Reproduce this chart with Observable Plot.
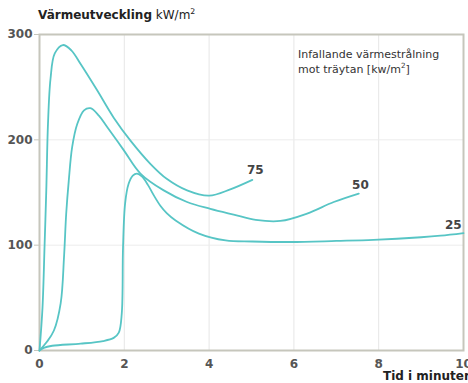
<!DOCTYPE html>
<html>
<head>
<meta charset="utf-8">
<script src="https://cdn.jsdelivr.net/npm/d3@7"></script>
<script src="https://cdn.jsdelivr.net/npm/@observablehq/plot@0.6"></script>
<style>
  html, body { margin: 0; padding: 0; background: #fff; }
  #wrap { position: relative; width: 468px; height: 383px; overflow: hidden; font-family: "DejaVu Sans", sans-serif; }
  #title { position: absolute; left: 38px; top: 8px; font-size: 12px; color: #222; white-space: nowrap; }
  #title b { font-weight: bold; }
  #legend { position: absolute; left: 298px; top: 47px; font-size: 11px; line-height: 15px; color: #333; white-space: nowrap; }
  #xlabel { position: absolute; left: 383px; top: 369px; font-size: 12px; font-weight: bold; color: #222; white-space: nowrap; }
  sup { font-size: 0.65em; line-height: 0; }
</style>
</head>
<body>
<div id="wrap">
  <div id="chart"></div>
  <div id="title"><b>Värmeutveckling</b> kW/m<sup>2</sup></div>
  <div id="legend">Infallande värmestrålning<br>mot träytan [kw/m<sup>2</sup>]</div>
  <div id="xlabel">Tid i minuter</div>
</div>
<script>
// Series: [minutes, kW/m2]
const curve75 = [[0,0],[0.07,40],[0.12,100],[0.16,152],[0.2,215],[0.26,258],[0.36,282],[0.55,290],[0.75,285],[0.97,272],[1.36,247],[1.75,221],[2.15,199],[2.62,177],[3.0,163],[3.48,152],[4.0,147],[4.5,153],[5.02,162]];
const curve50 = [[0,0],[0.17,8],[0.34,19],[0.5,45],[0.58,90],[0.63,130],[0.69,161],[0.77,193],[0.89,215],[1.05,228],[1.2,230],[1.4,223],[1.6,212],[1.99,190],[2.38,168],[2.93,152],[3.48,141],[4.03,134.5],[4.58,129],[5.1,124],[5.68,123],[6.31,130],[6.94,141],[7.53,149]];
const curve25 = [[0,0],[0.1,2.5],[0.3,4.5],[0.97,6.5],[1.5,9],[1.75,12],[1.87,17],[1.94,35],[1.97,98],[2.02,140],[2.1,158],[2.2,166],[2.3,168],[2.42,165],[2.56,157],[2.7,147],[2.85,137.5],[3.0,130.5],[3.21,123.5],[3.76,111],[4.39,104.5],[5.02,103.5],[5.92,103],[7.0,104],[7.88,105],[9.0,107.5],[9.46,109],[10,111.5]];
const seriesNames = ["75", "50", "25"];
const labelX = [5.09, 7.57, 9.76];
const labelY = [171, 157, 119];
const xTicks = [0, 2, 4, 6, 8, 10];
const yTicks = [0, 100, 200, 300];

const series = [curve75, curve50, curve25];
const lineData = series.flatMap((s, i) => s.map(([x, y]) => ({x, y, name: seriesNames[i]})));
const labels = seriesNames.map((n, i) => ({name: n, x: labelX[i], y: labelY[i]}));

const teal = "#57c5c5";
const frameColor = "#c6c6bc";

const chart = Plot.plot({
  width: 468,
  height: 383,
  marginLeft: 39,
  marginRight: 5,
  marginTop: 34,
  marginBottom: 33,
  style: {fontFamily: "DejaVu Sans, sans-serif", fontSize: "12px", background: "#fff"},
  x: {domain: [0, 10], ticks: xTicks, tickSize: 0, tickPadding: 9, tickFormat: d => d, label: null},
  y: {domain: [0, 300], ticks: yTicks, tickSize: 5, tickPadding: 2, tickFormat: d => d, label: null},
  marks: [
    Plot.gridX(xTicks.filter(d => d > 0 && d < 10), {stroke: "#e6e6e6", strokeOpacity: 1, strokeWidth: 1}),
    Plot.gridY(yTicks.filter(d => d > 0 && d < 300), {stroke: "#ececec", strokeOpacity: 1, strokeWidth: 1}),
    Plot.frame({stroke: frameColor, strokeWidth: 2}),
    Plot.axisX({ticks: xTicks, tickSize: 0, tickPadding: 9, fill: "#555", fontWeight: "bold", fontSize: 12, label: null}),
    Plot.axisY({ticks: yTicks, tickSize: 5, tickPadding: 2, stroke: frameColor, fill: "#555", fontWeight: "bold", fontSize: 12, label: null}),
    Plot.line(lineData, {x: "x", y: "y", z: "name", stroke: teal, strokeWidth: 1.8, curve: "catmull-rom"}),
    Plot.text(labels, {x: "x", y: "y", text: "name", fill: "#444", fontWeight: "bold", fontSize: 12})
  ]
});
document.getElementById("chart").appendChild(chart);
</script>
</body>
</html>
